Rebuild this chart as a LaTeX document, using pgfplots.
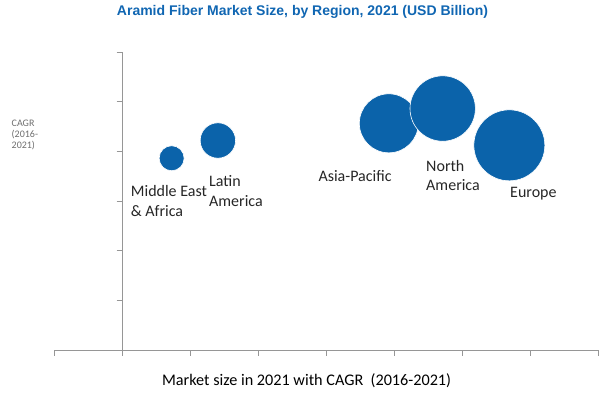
\documentclass[border=0pt]{standalone}
\usepackage{pgfplots}
\pgfplotsset{compat=1.18}
\usepackage{fontspec}
\setmainfont{Carlito}
\newfontfamily\titlefont{Liberation Sans}
\definecolor{bubble}{RGB}{11,99,170}
\definecolor{titleblue}{RGB}{16,102,178}
\definecolor{axisgray}{RGB}{150,150,150}
\definecolor{labgray}{RGB}{110,110,110}
\newcommand{\lab}{\fontsize{16bp}{20bp}\selectfont\color{black!85}}
\begin{document}
\begin{tikzpicture}[x=1bp,y=1bp]
\useasboundingbox (0,0) rectangle (600,392);
\begin{axis}[
  at={(54bp,42bp)}, anchor=south west,
  scale only axis, width=544bp, height=298bp,
  xmin=-1, xmax=7, ymin=0, ymax=6,
  axis x line=bottom, axis y line=center,
  axis line style={-, draw=axisgray, line width=0.8bp},
  xtick={-1,0,...,7}, ytick={0,1,...,6},
  xticklabels={}, yticklabels={},
  hide obscured x ticks=false, hide obscured y ticks=false,
  tick align=outside, major tick length=5.5bp,
  tick style={draw=axisgray, line width=0.8bp},
  clip=false,
]
\addplot[scatter, only marks, mark=*,
  scatter/use mapped color={draw=white, fill=bubble},
  line width=0.6bp,
  visualization depends on={\thisrow{r} \as \rad},
  scatter/@pre marker code/.append style={/tikz/mark size=\rad bp}]
  table {
x y r
0.73 3.861 12.5
1.41 4.218 17.7
3.924 4.564 29.5
4.716 4.862 32.7
5.696 4.121 35.5
};
\node[anchor=base west, inner sep=0, font=\lab] at (axis cs:0.128,3.090) {Middle East};
\node[anchor=base west, inner sep=0, font=\lab] at (axis cs:0.128,2.698) {\& Africa};
\node[anchor=base west, inner sep=0, font=\lab] at (axis cs:1.279,3.292) {Latin};
\node[anchor=base west, inner sep=0, font=\lab] at (axis cs:1.279,2.889) {America};
\node[anchor=base west, inner sep=0, font=\lab] at (axis cs:2.887,3.392) {Asia-Pacific};
\node[anchor=base west, inner sep=0, font=\lab] at (axis cs:4.471,3.594) {North};
\node[anchor=base west, inner sep=0, font=\lab] at (axis cs:4.471,3.211) {America};
\node[anchor=base west, inner sep=0, font=\lab] at (axis cs:5.706,3.080) {Europe};
\end{axis}
\node[anchor=base, inner sep=0, text=titleblue, font=\titlefont\bfseries\fontsize{14bp}{16bp}\selectfont] at (302.5,377) {Aramid Fiber Market Size, by Region, 2021 (USD Billion)};
\node[anchor=base, inner sep=0, font=\fontsize{16.2bp}{18bp}\selectfont] at (306.6,6.7) {Market size in 2021 with CAGR\ \ (2016-2021)};
\node[anchor=base west, inner sep=0, text=labgray, font=\fontsize{10bp}{11bp}\selectfont] at (11.5,266) {CAGR};
\node[anchor=base west, inner sep=0, text=labgray, font=\fontsize{10bp}{11bp}\selectfont] at (11.5,255) {(2016-};
\node[anchor=base west, inner sep=0, text=labgray, font=\fontsize{10bp}{11bp}\selectfont] at (11.5,244) {2021)};
\end{tikzpicture}
\end{document}
